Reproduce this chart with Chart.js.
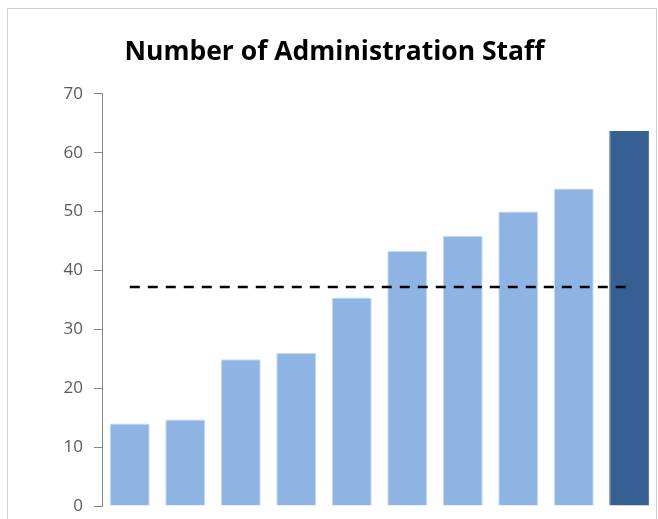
<!DOCTYPE html>
<html>
<head>
<meta charset="utf-8">
<script src="https://cdn.jsdelivr.net/npm/chart.js@4/dist/chart.umd.min.js"></script>
<style>
  html, body { margin: 0; padding: 0; background: #fff; }
  #wrap { width: 658px; height: 519px; position: relative; }
</style>
</head>
<body>
<div id="wrap"><canvas id="staffChart"></canvas></div>
<script>
const categories = ["1", "2", "3", "4", "5", "6", "7", "8", "9", "10"];
const staffCounts = [14, 14.7, 24.9, 26, 35.4, 43.3, 45.9, 50, 53.9, 63.7];
const averageLine = [37.2, 37.2, 37.2, 37.2, 37.2, 37.2, 37.2, 37.2, 37.2, 37.2];
const yTicks = [0, 10, 20, 30, 40, 50, 60, 70];

const lightBlue = "#8EB4E3";
const darkBlue = "#376092";

// last bar is highlighted in the dark colour
const barColors = staffCounts.map((v, i) => i === staffCounts.length - 1 ? darkBlue : lightBlue);
const barBorders = staffCounts.map((v, i) => i === staffCounts.length - 1 ? darkBlue : "#C9DBF2");

// thin grey frame like the spreadsheet chart box
const frame = {
  id: "frame",
  beforeDraw(chart) {
    const ctx = chart.ctx;
    ctx.save();
    ctx.fillStyle = "#fff";
    ctx.fillRect(0, 0, chart.width, chart.height);
    ctx.strokeStyle = "#D0D0D0";
    ctx.lineWidth = 1;
    ctx.strokeRect(7.5, 8.5, 649, 520);
    ctx.restore();
  }
};

new Chart(document.getElementById("staffChart"), {
  data: {
    labels: categories,
    datasets: [
      {
        type: "line",
        data: averageLine,
        borderColor: "#000",
        borderWidth: 2.5,
        borderDash: [10, 8],
        pointRadius: 0,
        fill: false,
        order: 0
      },
      {
        type: "bar",
        data: staffCounts,
        backgroundColor: barColors,
        borderColor: barBorders,
        borderWidth: 1,
        categoryPercentage: 1,
        barPercentage: 0.72,
        order: 1
      }
    ]
  },
  options: {
    responsive: true,
    maintainAspectRatio: false,
    animation: false,
    layout: { padding: { left: 12, right: 1, top: 0, bottom: 13 } },
    plugins: {
      legend: { display: false },
      tooltip: { enabled: false },
      title: {
        display: true,
        text: "Number of Administration Staff",
        color: "#000",
        font: { family: "Open Sans", size: 26.5, weight: "bold" },
        padding: { top: 37, bottom: 25 }
      }
    },
    scales: {
      x: { display: false },
      y: {
        min: 0,
        max: 70,
        afterFit(scale) {
          scale.width = 90;
          scale.paddingTop = 0;
          scale.paddingBottom = 0;
        },
        afterBuildTicks(scale) { scale.ticks = yTicks.map(v => ({ value: v })); },
        ticks: {
          color: "#595959",
          padding: 11,
          font: { family: "Open Sans", size: 17 }
        },
        grid: {
          drawOnChartArea: false,
          drawTicks: true,
          tickLength: 8,
          color: "#868686"
        },
        border: { display: true, color: "#868686", width: 1 }
      }
    }
  },
  plugins: [frame]
});
</script>
</body>
</html>
